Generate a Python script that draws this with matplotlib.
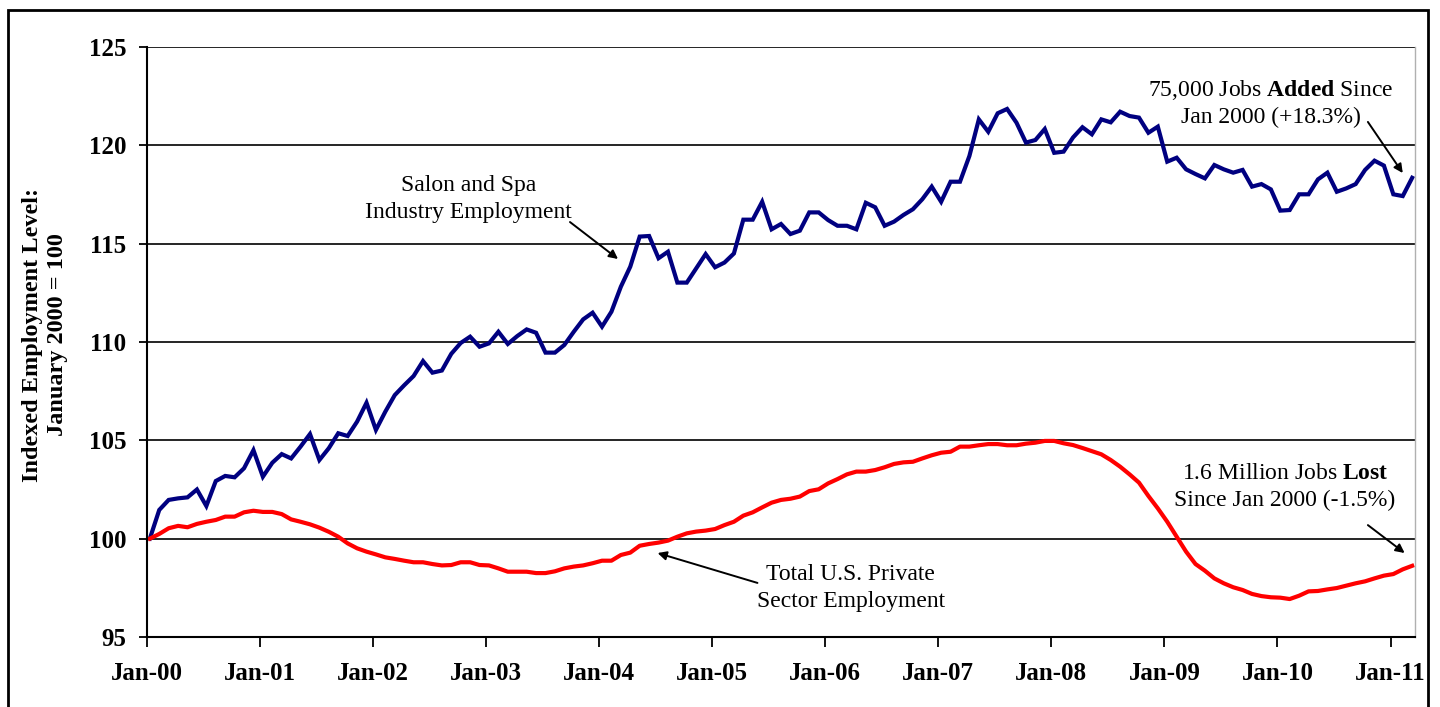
import numpy as np
import matplotlib
matplotlib.use('Agg')
import matplotlib.pyplot as plt
from matplotlib.patches import Rectangle

# monthly index values, Jan 2000 .. Mar 2011 (Jan 2000 = 100)
salon_spa = [
    100.0, 101.46, 101.97, 102.05, 102.1, 102.5, 101.66, 102.93, 103.19, 103.12, 103.58, 104.5,
    103.15, 103.86, 104.3, 104.08, 104.68, 105.32, 104.0, 104.6, 105.36, 105.22, 105.95, 106.91,
    105.53, 106.46, 107.3, 107.8, 108.27, 109.03, 108.44, 108.55, 109.4, 109.95, 110.27, 109.76,
    109.93, 110.52, 109.9, 110.3, 110.64, 110.47, 109.46, 109.46, 109.85, 110.52, 111.15, 111.49,
    110.78, 111.54, 112.81, 113.83, 115.36, 115.39, 114.26, 114.59, 113.02, 113.02, 113.74, 114.47,
    113.8, 114.04, 114.5, 116.22, 116.22, 117.13, 115.73, 116.0, 115.49, 115.66, 116.59, 116.59,
    116.2, 115.91, 115.91, 115.73, 117.08, 116.85, 115.91, 116.12, 116.46, 116.75, 117.26, 117.9,
    117.13, 118.15, 118.15, 119.46, 121.32, 120.69, 121.63, 121.85, 121.15, 120.14, 120.27, 120.83,
    119.62, 119.68, 120.4, 120.92, 120.56, 121.32, 121.17, 121.71, 121.49, 121.41, 120.64, 120.95,
    119.17, 119.37, 118.78, 118.54, 118.32, 119.0, 118.78, 118.61, 118.75, 117.9, 118.03, 117.76,
    116.68, 116.71, 117.51, 117.51, 118.27, 118.61, 117.64, 117.81, 118.03, 118.75, 119.22, 118.97,
    117.51, 117.42, 118.35]

total_private = [
    100.0, 100.24, 100.53, 100.65, 100.58, 100.75, 100.86, 100.95, 101.12, 101.12, 101.34, 101.42,
    101.36, 101.36, 101.25, 100.98, 100.86, 100.73, 100.56, 100.35, 100.1, 99.76, 99.51, 99.34,
    99.2, 99.05, 98.97, 98.88, 98.8, 98.8, 98.71, 98.64, 98.66, 98.8, 98.8, 98.66,
    98.64, 98.49, 98.32, 98.32, 98.32, 98.25, 98.25, 98.34, 98.49, 98.58, 98.64, 98.75,
    98.88, 98.88, 99.17, 99.29, 99.64, 99.73, 99.8, 99.9, 100.1, 100.27, 100.36, 100.41,
    100.49, 100.69, 100.86, 101.17, 101.34, 101.59, 101.83, 101.97, 102.03, 102.14, 102.42, 102.51,
    102.81, 103.03, 103.27, 103.41, 103.41, 103.49, 103.63, 103.8, 103.88, 103.91, 104.08, 104.24,
    104.37, 104.42, 104.68, 104.68, 104.75, 104.81, 104.81, 104.75, 104.75, 104.83, 104.88, 104.97,
    104.97, 104.85, 104.76, 104.61, 104.45, 104.29, 104.0, 103.66, 103.27, 102.85, 102.17, 101.54,
    100.86, 100.1, 99.34, 98.71, 98.37, 97.98, 97.73, 97.53, 97.39, 97.19, 97.08, 97.02,
    97.0, 96.93, 97.1, 97.32, 97.34, 97.42, 97.49, 97.61, 97.73, 97.83, 97.98, 98.12,
    98.2, 98.44, 98.62]

year_labels = ['Jan-00', 'Jan-01', 'Jan-02', 'Jan-03', 'Jan-04', 'Jan-05',
               'Jan-06', 'Jan-07', 'Jan-08', 'Jan-09', 'Jan-10', 'Jan-11']

months = np.arange(len(salon_spa))

plt.rcParams['font.family'] = 'Liberation Serif'
plt.rcParams['mathtext.fontset'] = 'custom'
plt.rcParams['mathtext.rm'] = 'Liberation Serif'
plt.rcParams['mathtext.bf'] = 'Liberation Serif:bold'

fig = plt.figure(figsize=(14.4, 7.07), dpi=100)
ax = fig.add_axes([147 / 1440, 1 - 637 / 707, 1268 / 1440, 590 / 707])

ax.plot(months, salon_spa, color='#000080', lw=3.0, solid_joinstyle='miter')
ax.plot(months, total_private, color='#ff0000', lw=3.0)

# Excel date axis: the points sit a little after the month tick
ax.set_xlim(-0.3, 134.3)
ax.set_ylim(95, 125)
ax.set_xticks(np.arange(0, 12 * len(year_labels), 12) - 0.3)
ax.set_xticklabels(year_labels, fontweight='bold', fontsize=18)
ax.set_yticks(np.arange(95, 126, 5))
ax.set_yticklabels([str(v) for v in range(95, 126, 5)], fontweight='bold', fontsize=18)
ax.tick_params(axis='y', direction='out', length=6, width=1.3, pad=9)
ax.tick_params(axis='x', direction='out', length=7, width=1.3, pad=11)
ax.yaxis.grid(True, color='black', lw=1.2)
ax.set_axisbelow(True)
ax.spines['top'].set_visible(False)
ax.spines['right'].set_color('#b0b0b0')
ax.spines['right'].set_linewidth(1.0)
ax.spines['left'].set_linewidth(1.5)
ax.spines['bottom'].set_linewidth(1.5)

fig.text(45 / 1440, 1 - 335 / 707, 'Indexed Employment Level:\nJanuary 2000 = 100',
         rotation=90, ha='center', va='center', multialignment='center',
         fontsize=17.5, fontweight='bold', linespacing=1.3)

arrow = dict(arrowstyle='-|>', color='black', lw=1.4, mutation_scale=13,
             shrinkA=0, shrinkB=0)

ax.text(33.8, 117.27, 'Salon and Spa\nIndustry Employment', ha='center', va='center',
        fontsize=17, linespacing=1.35)
ax.annotate('', xy=(49.7, 114.22), xytext=(44.6, 116.1), arrowprops=arrow)

ax.text(74.4, 97.49, 'Total U.S. Private\nSector Employment', ha='center', va='center',
        fontsize=17, linespacing=1.35)
ax.annotate('', xy=(53.9, 99.27), xytext=(64.5, 97.75), arrowprops=arrow)

ax.text(119.0, 122.15, '75,000 Jobs $\\mathbf{Added}$ Since\nJan 2000 (+18.3%)',
        ha='center', va='center', fontsize=17, linespacing=1.35)
ax.annotate('', xy=(133.0, 118.59), xytext=(129.3, 121.19), arrowprops=arrow)

ax.text(120.5, 102.63, '1.6 Million Jobs $\\mathbf{Lost}$\nSince Jan 2000 (-1.5%)',
        ha='center', va='center', fontsize=17, linespacing=1.35)
ax.annotate('', xy=(133.2, 99.27), xytext=(129.3, 100.69), arrowprops=arrow)

# outer chart frame (bottom edge runs off the picture)
fig.add_artist(Rectangle((8 / 1440, -0.05), 1420 / 1440, 1.05 - 10 / 707,
                         transform=fig.transFigure, fill=False,
                         edgecolor='black', lw=2.0, clip_on=False))

fig.savefig('out.png', dpi=100)
